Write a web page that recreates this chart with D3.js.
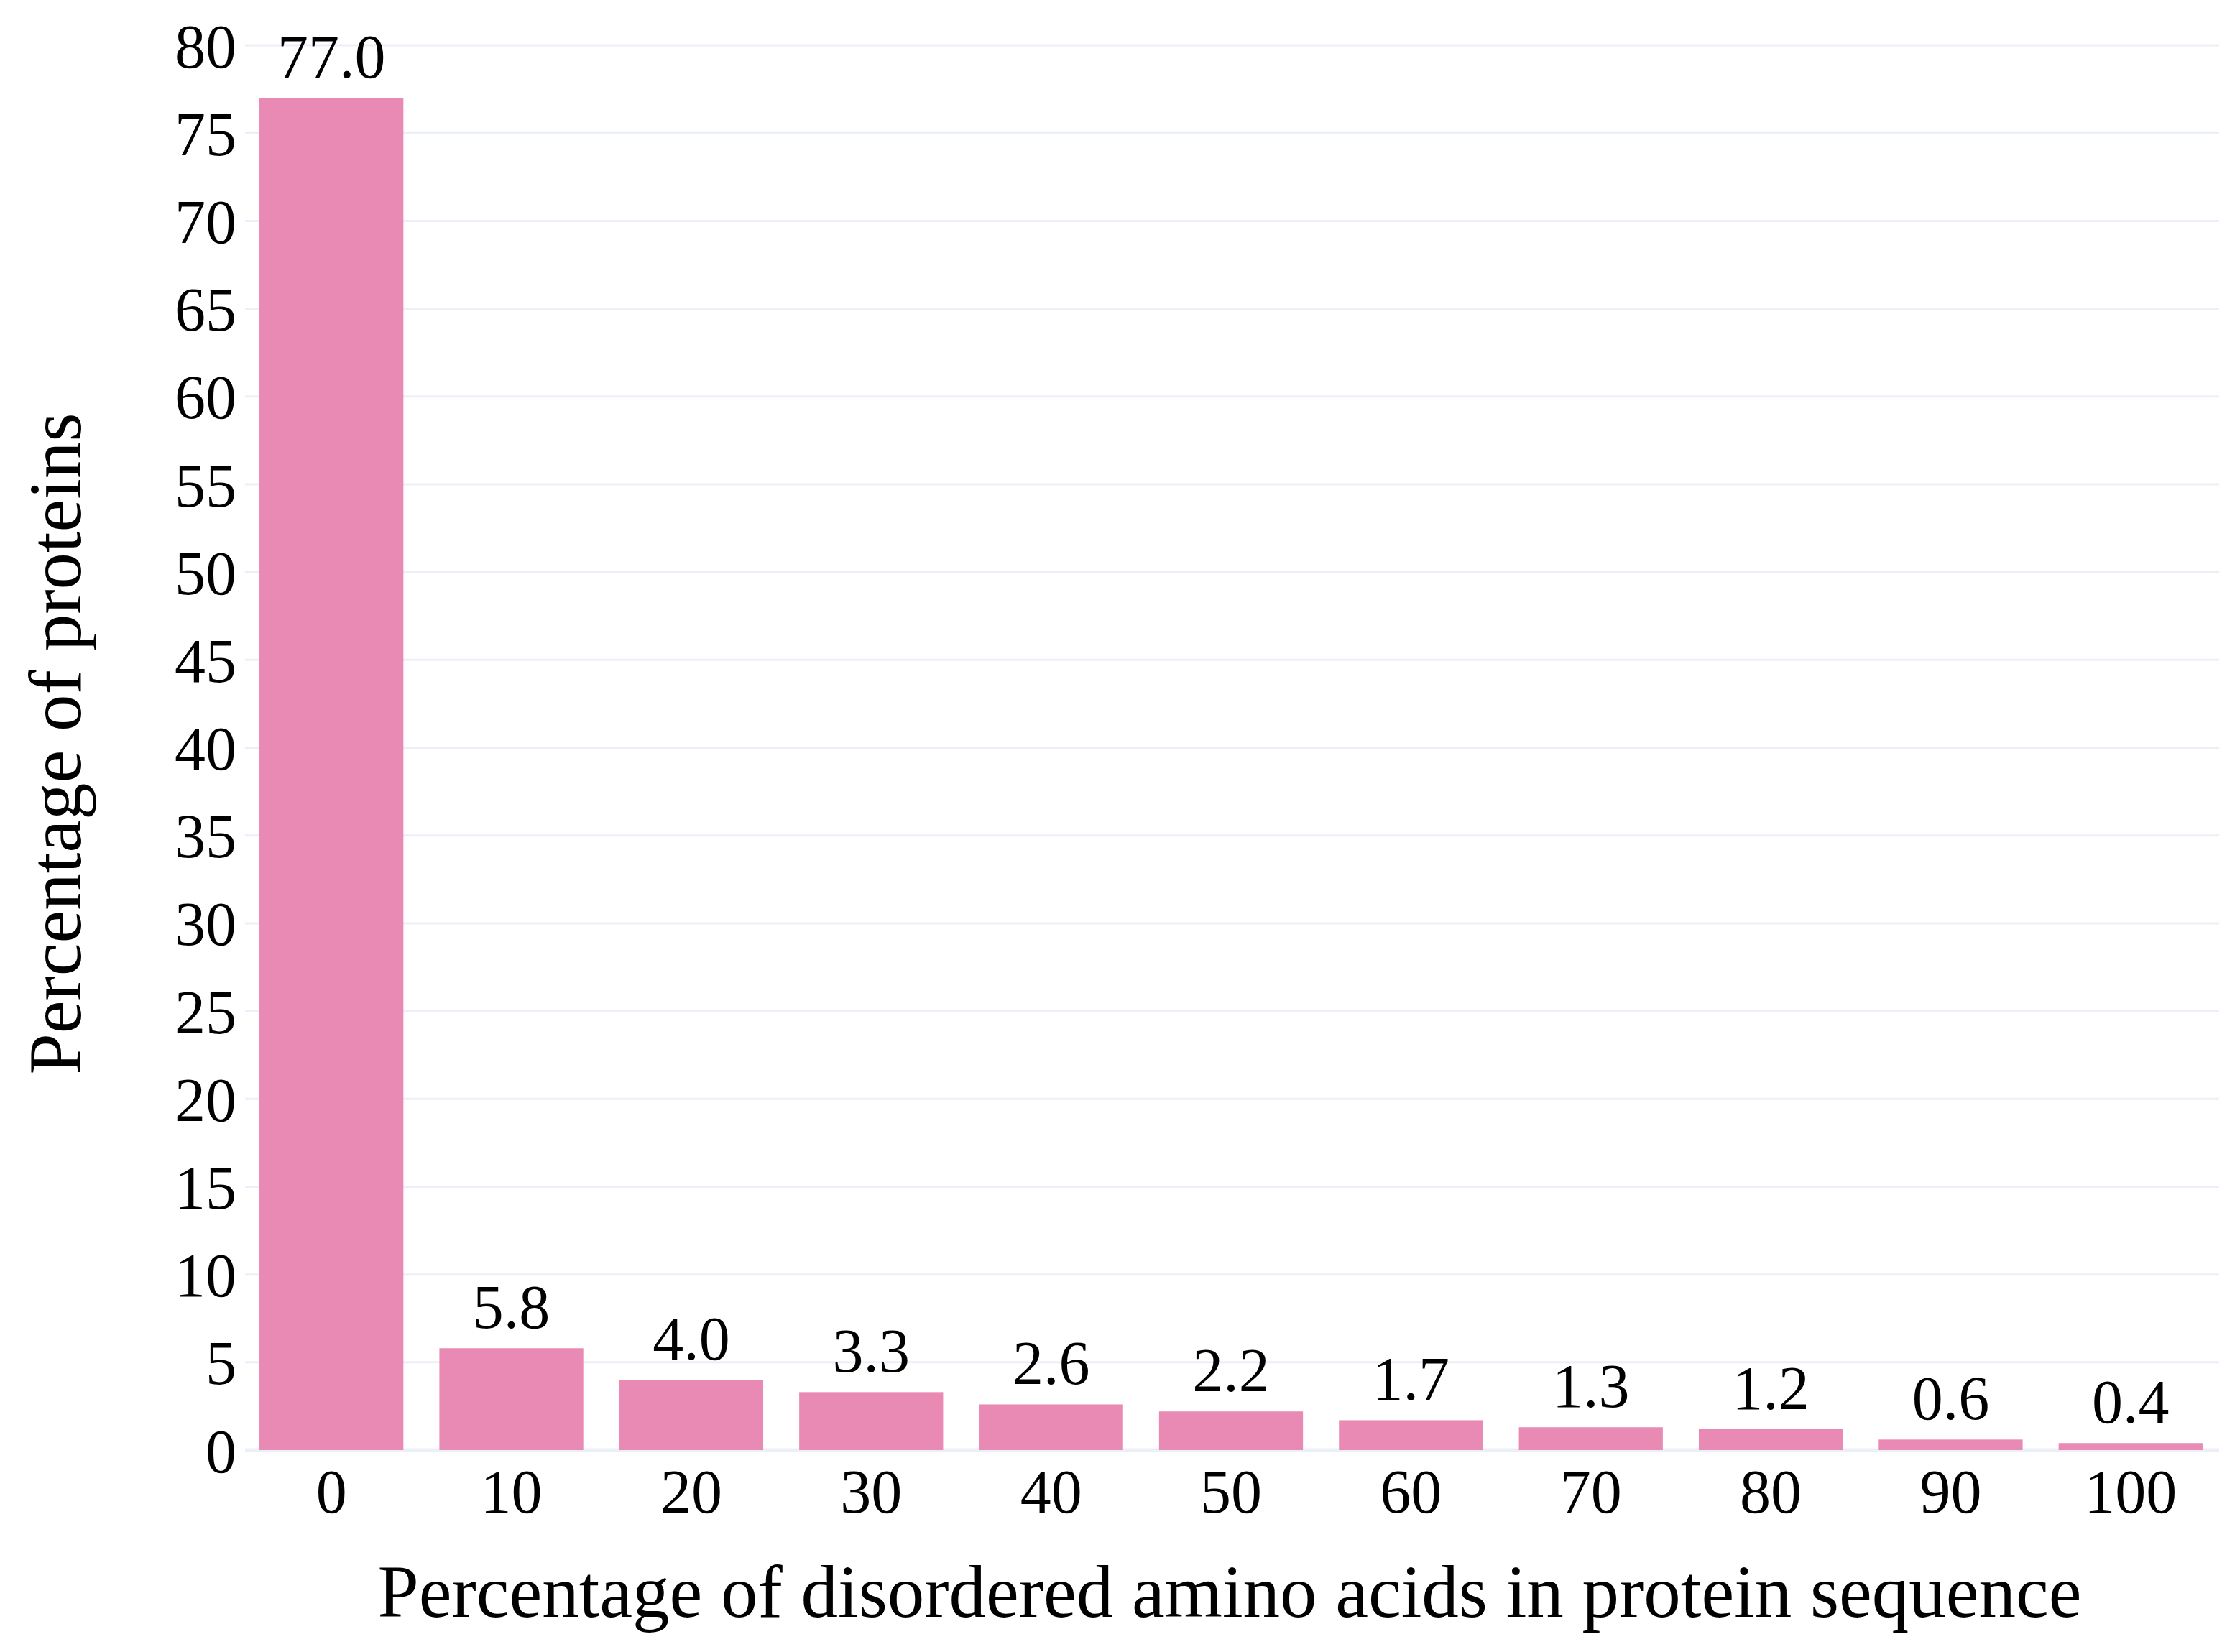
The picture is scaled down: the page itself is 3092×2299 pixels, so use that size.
<!DOCTYPE html>
<html>
<head>
<meta charset="utf-8">
<script src="https://cdn.jsdelivr.net/npm/d3@7"></script>
<style>
  body { margin: 0; background: #fff; }
  svg { display: block; }
</style>
</head>
<body>
<svg width="3092" height="2299"></svg>
<script>
// data
var categories = ["0", "10", "20", "30", "40", "50", "60", "70", "80", "90", "100"];
var percentProteins = [77.0, 5.8, 4.0, 3.3, 2.6, 2.2, 1.7, 1.3, 1.2, 0.6, 0.4];
var yTicks = [0, 5, 10, 15, 20, 25, 30, 35, 40, 45, 50, 55, 60, 65, 70, 75, 80];

var svg = d3.select("svg"),
    width = +svg.attr("width"),
    height = +svg.attr("height");

var font = "'Liberation Serif', 'Times New Roman', serif";
var plotLeft = 336, plotRight = 3090, plotTop = 63, plotBottom = 2018;

var x = d3.scaleBand()
    .domain(categories)
    .range([plotLeft, plotRight])
    .paddingInner(0.2)
    .paddingOuter(0.1);

var y = d3.scaleLinear()
    .domain([0, 80])
    .range([plotBottom, plotTop]);

// grid
svg.append("g")
    .selectAll("line")
    .data(yTicks)
    .enter().append("line")
    .attr("x1", plotLeft + 5)
    .attr("x2", plotRight - 2)
    .attr("y1", d => y(d))
    .attr("y2", d => y(d))
    .style("stroke", "#EBF0F8")
    .style("stroke-width", d => d === 0 ? 5 : 3);

// bars
svg.append("g")
    .selectAll("rect")
    .data(percentProteins)
    .enter().append("rect")
    .attr("x", (d, i) => x(categories[i]))
    .attr("width", x.bandwidth())
    .attr("y", d => y(d))
    .attr("height", d => y(0) - y(d))
    .attr("fill", "#E98AB4");

// value labels
svg.append("g")
    .selectAll("text")
    .data(percentProteins)
    .enter().append("text")
    .attr("x", (d, i) => x(categories[i]) + x.bandwidth() / 2)
    .attr("y", d => y(d) - 28)
    .attr("text-anchor", "middle")
    .style("font-family", font)
    .style("font-size", "86px")
    .text(d => d.toFixed(1));

// y axis
var yAxis = svg.append("g")
    .attr("transform", "translate(" + (plotLeft - 7) + ",0)")
    .call(d3.axisLeft(y).tickValues(yTicks).tickSize(0).tickPadding(0));
yAxis.select(".domain").remove();
yAxis.selectAll("text")
    .attr("dy", "0.35em")
    .style("font-family", font)
    .style("font-size", "86px")
    .attr("fill", "#000");

// x axis
var xAxis = svg.append("g")
    .attr("transform", "translate(0," + plotBottom + ")")
    .call(d3.axisBottom(x).tickSize(0).tickPadding(0));
xAxis.select(".domain").remove();
xAxis.selectAll("text")
    .attr("dy", null)
    .attr("y", 87)
    .style("font-family", font)
    .style("font-size", "86px")
    .attr("fill", "#000");

// axis titles
svg.append("text")
    .attr("x", 1711)
    .attr("y", 2250)
    .attr("text-anchor", "middle")
    .style("font-family", font)
    .style("font-size", "103px")
    .text("Percentage of disordered amino acids in protein sequence");

svg.append("text")
    .attr("transform", "translate(112," + 1035 + ") rotate(-90)")
    .attr("text-anchor", "middle")
    .style("font-family", font)
    .style("font-size", "103px")
    .text("Percentage of proteins");
</script>
</body>
</html>
